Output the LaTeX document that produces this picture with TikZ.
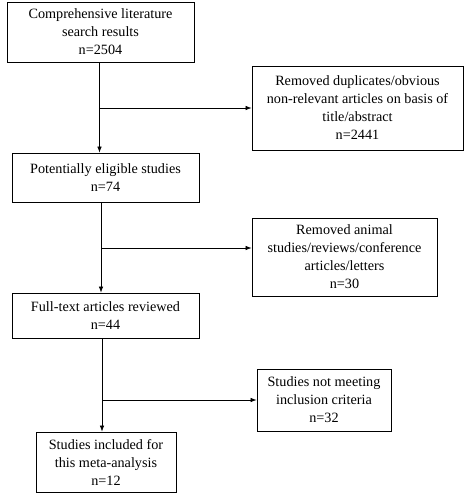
\documentclass[tikz,border=0pt]{standalone}
\usepackage{fontspec}
\setmainfont{Liberation Serif}
\usetikzlibrary{arrows.meta}
\begin{document}
\begin{tikzpicture}[x=1pt,y=-1pt,
  box/.style={draw,line width=0.8pt,align=center,inner sep=0pt,font=\fontsize{14.2}{18}\selectfont},
  arr/.style={line width=0.7pt,-{Latex[length=6pt,width=4.5pt]}}]
\useasboundingbox (0,0) rectangle (472,493);
\node[box,minimum width=187pt,minimum height=60pt] (b1) at (100.5,32) {Comprehensive literature\\search results\\n=2504};
\node[box,minimum width=211pt,minimum height=84pt] (r1) at (357.5,108) {Removed duplicates/obvious\\non-relevant articles on basis of\\title/abstract\\n=2441};
\node[box,minimum width=187pt,minimum height=49pt] (b2) at (105.5,177.5) {Potentially eligible studies\\n=74};
\node[box,minimum width=185pt,minimum height=78pt] (r2) at (344.5,257) {Removed animal\\studies/reviews/conference\\articles/letters\\n=30};
\node[box,minimum width=187pt,minimum height=45pt] (b3) at (105.5,315.5) {Full-text articles reviewed\\n=44};
\node[box,minimum width=134pt,minimum height=62pt] (r3) at (324,400) {Studies not meeting\\inclusion criteria\\n=32};
\node[box,minimum width=140pt,minimum height=60pt] (b4) at (106,462) {Studies included for\\this meta-analysis\\n=12};
\coordinate (x1) at (99.5,108);
\coordinate (x2) at (101,248);
\coordinate (x3) at (102,400);
\draw[arr] (b1.south -| x1) -- (b2.north -| x1);
\draw[arr] (x1) -- (r1.west |- x1);
\draw[arr] (b2.south -| x2) -- (b3.north -| x2);
\draw[arr] (x2) -- (r2.west |- x2);
\draw[arr] (b3.south -| x3) -- (b4.north -| x3);
\draw[arr] (x3) -- (r3.west |- x3);
\end{tikzpicture}
\end{document}
